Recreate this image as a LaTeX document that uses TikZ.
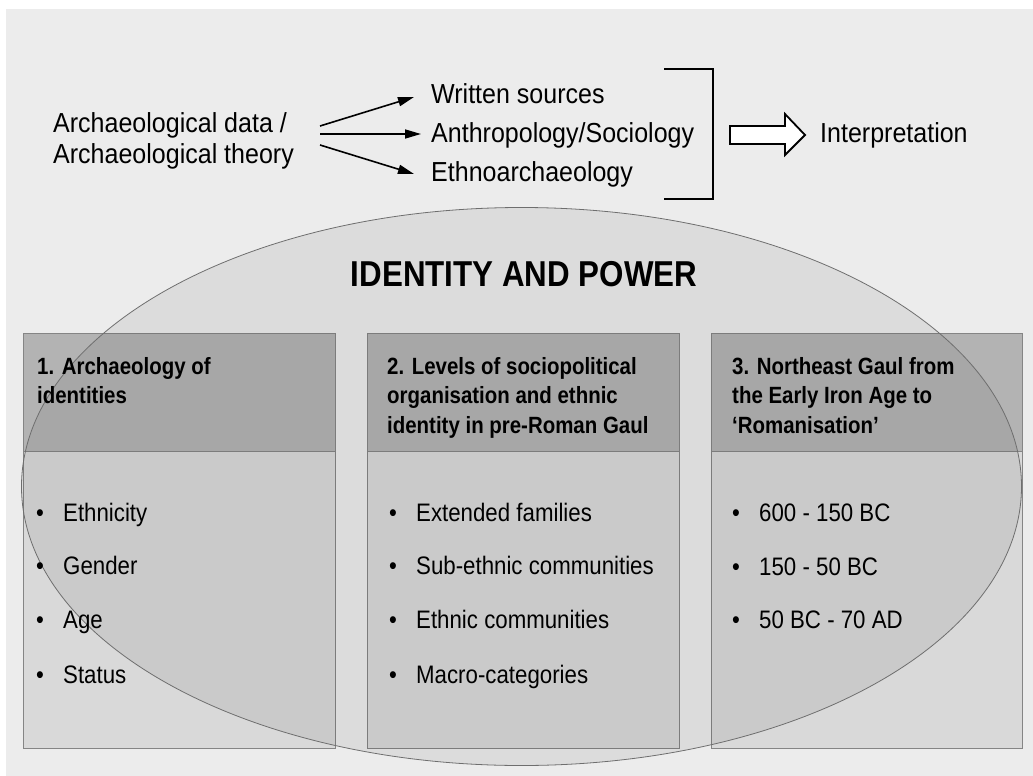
\documentclass[tikz,border=0pt]{standalone}
\usepackage{fontspec}
\newfontfamily\topfont{Liberation Sans}[FakeStretch=0.91]
\newfontfamily\itemfont{Liberation Sans}[FakeStretch=0.88]
\newfontfamily\headfont{Liberation Sans}[FakeStretch=0.87]
\usetikzlibrary{arrows.meta,shapes.geometric}
\definecolor{paper}{HTML}{ECECEC}
\definecolor{headfill}{HTML}{B3B3B3}
\definecolor{bodyfill}{HTML}{D9D9D9}
\definecolor{frame}{HTML}{858585}
\definecolor{rim}{HTML}{6E6E6E}
\begin{document}
\begin{tikzpicture}[x=1pt,y=-1pt,
  toptext/.style={anchor=base west,inner sep=0pt,font=\topfont\fontsize{27.5}{31}\selectfont},
  itemtext/.style={anchor=base west,inner sep=0pt,font=\itemfont\fontsize{25.3}{30}\selectfont},
  headtext/.style={anchor=base west,inner sep=0pt,align=left,
    font=\headfont\bfseries\fontsize{23.5}{29.5}\selectfont},
  headbox/.style={draw=frame,line width=1.3pt,fill=headfill,anchor=north west,
    minimum width=312pt,minimum height=118pt,inner sep=0pt},
  bodybox/.style={draw=frame,line width=1.3pt,fill=bodyfill,anchor=north west,
    minimum width=312pt,minimum height=297pt,inner sep=0pt},
  conn/.style={line width=1.6pt,-{Triangle[length=16pt,width=9pt]}},
]
\useasboundingbox (0,0) rectangle (1033,776);
\fill[white] (0,0) rectangle (1033,776);
\fill[paper] (6,9) rectangle (1033,776);

% --- upper line: sources and interpretation ---
% (multi-line nodes are placed by the baseline of their last line)
\node[toptext,align=left] (data) at (53,163) {Archaeological data /\\Archaeological theory};
\node[toptext] (written) at (431,103) {Written sources};
\node[toptext] (anthro) at (431,142) {Anthropology/Sociology};
\node[toptext] (ethno) at (431,181) {Ethnoarchaeology};
\node[toptext] (interp) at (820,142) {Interpretation};

\coordinate (s1) at (320,126);
\coordinate (s2) at (320,134);
\coordinate (s3) at (320,145);
\coordinate (t1) at (414,97);
\coordinate (t2) at (421,134);
\coordinate (t3) at (414,174);
\draw[conn] (s1) -- (t1);
\draw[conn] (s2) -- (t2);
\draw[conn] (s3) -- (t3);

% bracket gathering the three sources
\coordinate (bt) at (664,69);
\coordinate (bb) at (664,199);
\draw[line width=1.5pt] (bt) -- (713,69) -- (713,199) -- (bb);

% hollow arrow towards the interpretation
\draw[line width=1.8pt,fill=white,line join=miter]
  (730,126) -- (785,126) -- (785,114) -- (805,135) -- (785,155) -- (785,144) -- (730,144) -- cycle;

% --- three themes ---
\node[headbox] (h1) at (23,333) {};
\node[bodybox] (b1) at (23,451) {};
\node[headbox] (h2) at (367,333) {};
\node[bodybox] (b2) at (367,451) {};
\node[headbox,minimum width=311pt] (h3) at (711,333) {};
\node[bodybox,minimum width=311pt] (b3) at (711,451) {};

% translucent ellipse over the themes
\node[ellipse,draw=rim,line width=0.8pt,fill=black,fill opacity=0.065,
  minimum width=1000pt,minimum height=558pt,inner sep=0pt] (idp) at (521.5,486.5) {};

\node[anchor=base,inner sep=0pt,font=\headfont\bfseries\fontsize{36}{40}\selectfont]
  (title) at (524,286) {IDENTITY AND POWER};

\node[headtext] (ht1) at (37,403.5) {1. Archaeology of\\identities};
\node[headtext] (ht2) at (387,433) {2. Levels of sociopolitical\\organisation and ethnic\\identity in pre-Roman Gaul};
\node[headtext] (ht3) at (732,433) {3. Northeast Gaul from\\the Early Iron Age to\\‘Romanisation’};

\newcommand{\bul}{\makebox[27pt][l]{\textbullet}}
\node[itemtext] (i11) at (36,521) {\bul Ethnicity};
\node[itemtext] (i12) at (36,574) {\bul Gender};
\node[itemtext] (i13) at (36,628) {\bul Age};
\node[itemtext] (i14) at (36,683) {\bul Status};

\node[itemtext] (i21) at (389,521) {\bul Extended families};
\node[itemtext] (i22) at (389,574) {\bul Sub-ethnic communities};
\node[itemtext] (i23) at (389,628) {\bul Ethnic communities};
\node[itemtext] (i24) at (389,683) {\bul Macro-categories};

\node[itemtext] (i31) at (732,521) {\bul 600 - 150 BC};
\node[itemtext] (i32) at (732,575) {\bul 150 - 50 BC};
\node[itemtext] (i33) at (732,628) {\bul 50 BC - 70 AD};
\end{tikzpicture}
\end{document}
